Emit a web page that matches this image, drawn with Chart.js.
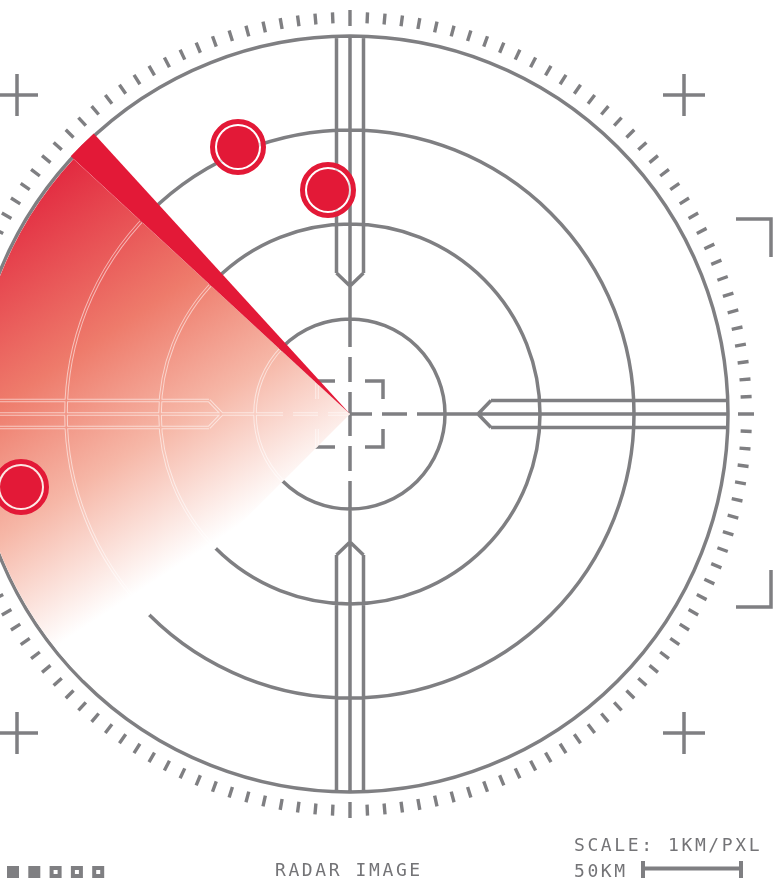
<!DOCTYPE html>
<html>
<head>
<meta charset="utf-8">
<script src="https://cdn.jsdelivr.net/npm/chart.js@4.4.1/dist/chart.umd.min.js"></script>
<style>
  html, body { margin: 0; padding: 0; background: #fff; }
  #wrap { position: relative; width: 773px; height: 881px; overflow: hidden; }
  #radar { position: absolute; left: 0; top: 0; }
  .lbl {
    position: absolute;
    font-family: 'DejaVu Sans Mono', monospace;
    font-size: 18px;
    line-height: 18px;
    letter-spacing: 2.6px;
    color: #747477;
    white-space: nowrap;
  }
</style>
</head>
<body>
<div id="wrap">
  <canvas id="radar" width="773" height="881"></canvas>
  <div class="lbl" style="left:275px; top:861px">RADAR IMAGE</div>
  <div class="lbl" style="left:574px; top:836px">SCALE: 1KM/PXL</div>
  <div class="lbl" style="left:574px; top:862px">50KM</div>
</div>
<script>
// range rings (km from the station) and contacts (x east, y north, km)
const ringRadii = [95, 190, 284, 378];
const blipX = [-112, -22, -329];
const blipY = [267, 224, -73];
// sweep beam, canvas degrees
const sweepEdge = [-137.3, -132.4];
const sweepTail = 135;
const tickCount = 144;

const GRAY = '#7f7f82';
const RED = '#e31937';
const deg = d => d * Math.PI / 180;

function structurePath(ctx, cx, cy, px) {
    const R = px(ringRadii[ringRadii.length - 1]);
    ctx.beginPath();
    ringRadii.forEach(r => {
        const rr = px(r);
        ctx.moveTo(cx + rr, cy);
        ctx.arc(cx, cy, rr, 0, Math.PI * 2);
    });
    const tip = px(128), w = px(13.5), sl = px(13);
    const end = Math.sqrt(R * R - w * w);
    const b = px(33), bl = px(18);
    for (let a = 0; a < 4; a++) {
        const c = Math.cos(a * Math.PI / 2), s = Math.sin(a * Math.PI / 2);
        const P = (u, v) => [cx + u * c - v * s, cy + u * s + v * c];
        const seg = (u1, v1, u2, v2) => { ctx.moveTo(...P(u1, v1)); ctx.lineTo(...P(u2, v2)); };
        seg(tip + sl, -w, end, -w);
        seg(tip + sl, w, end, w);
        seg(tip, 0, tip + sl, -w);
        seg(tip, 0, tip + sl, w);
        seg(px(67), 0, R, 0);
        seg(0, 0, px(22), 0);
        seg(px(32), 0, px(57), 0);
        ctx.moveTo(...P(b - bl, b));
        ctx.lineTo(...P(b, b));
        ctx.lineTo(...P(b, b - bl));
    }
}

const radarBackdrop = {
    id: 'radarBackdrop',
    beforeDatasetsDraw(chart) {
        const { ctx, scales: { x, y } } = chart;
        const cx = x.getPixelForValue(0), cy = y.getPixelForValue(0);
        const px = r => x.getPixelForValue(r) - cx;
        const R = px(ringRadii[ringRadii.length - 1]);

        ctx.save();
        ctx.strokeStyle = GRAY;
        ctx.lineCap = 'butt';

        // bezel ticks
        ctx.lineWidth = 3.4;
        ctx.beginPath();
        for (let i = 0; i < tickCount; i++) {
            const a = deg(i * 360 / tickCount);
            const major = i % (tickCount / 4) === 0;
            const r1 = px(major ? 388 : 391), r2 = px(major ? 404 : 402);
            ctx.moveTo(cx + r1 * Math.cos(a), cy + r1 * Math.sin(a));
            ctx.lineTo(cx + r2 * Math.cos(a), cy + r2 * Math.sin(a));
        }
        ctx.stroke();

        // rings, arms, centre cross
        ctx.lineWidth = 3.5;
        ctx.lineJoin = 'miter';
        structurePath(ctx, cx, cy, px);
        ctx.stroke();

        // sweep
        const grad = ctx.createLinearGradient(cx - 257, cy - 273, cx - 36, cy + 62);
        grad.addColorStop(0, '#e2283f');
        grad.addColorStop(0.42, '#ee7b6b');
        grad.addColorStop(0.7, '#f6b7a7');
        grad.addColorStop(1, '#ffffff');
        ctx.save();
        ctx.beginPath();
        ctx.moveTo(cx, cy);
        ctx.arc(cx, cy, R - 1.8, deg(sweepTail), deg(360 + sweepEdge[0]));
        ctx.closePath();
        ctx.fillStyle = grad;
        ctx.fill();
        ctx.clip();
        structurePath(ctx, cx, cy, px);
        ctx.lineWidth = 3.6;
        ctx.strokeStyle = 'rgba(255,255,255,0.55)';
        ctx.stroke();
        ctx.lineWidth = 1.6;
        ctx.strokeStyle = grad;
        ctx.stroke();
        ctx.restore();

        ctx.beginPath();
        ctx.moveTo(cx, cy);
        ctx.arc(cx, cy, R + 2, deg(sweepEdge[0]), deg(sweepEdge[1]));
        ctx.closePath();
        ctx.fillStyle = RED;
        ctx.fill();

        // corner crosses
        ctx.lineWidth = 3.5;
        ctx.strokeStyle = GRAY;
        ctx.beginPath();
        [[-333, 319], [334, 319], [-333, -319], [334, -319]].forEach(([u, v]) => {
            const mx = x.getPixelForValue(u), my = y.getPixelForValue(v);
            ctx.moveTo(mx - 21, my); ctx.lineTo(mx + 21, my);
            ctx.moveTo(mx, my - 21); ctx.lineTo(mx, my + 21);
        });
        // right frame brackets
        ctx.moveTo(736, 219); ctx.lineTo(771, 219); ctx.lineTo(771, 257);
        ctx.moveTo(736, 607); ctx.lineTo(771, 607); ctx.lineTo(771, 570);
        ctx.stroke();

        // status squares
        ctx.fillStyle = GRAY;
        for (let i = 0; i < 5; i++) {
            const sx = 7 + i * 21.3;
            if (i < 2) {
                ctx.fillRect(sx, 866, 12, 12);
            } else {
                ctx.lineWidth = 4;
                ctx.strokeRect(sx + 2, 868, 8, 8);
            }
        }

        // scale bar
        ctx.fillRect(642, 866.5, 100, 4);
        ctx.fillRect(641, 861, 4, 17);
        ctx.fillRect(739, 861, 4, 17);
        ctx.restore();
    }
};

const blips = blipX.map((v, i) => ({ x: v, y: blipY[i] }));

new Chart(document.getElementById('radar'), {
    type: 'scatter',
    data: {
        datasets: [
            { data: blips, pointRadius: 21, backgroundColor: RED, borderWidth: 0, order: 0 },
            { data: blips, pointRadius: 25.5, backgroundColor: 'rgba(255,255,255,0.75)',
              borderColor: RED, borderWidth: 5, order: 1 }
        ]
    },
    options: {
        responsive: false,
        animation: false,
        events: [],
        layout: { padding: 0, autoPadding: false },
        plugins: { legend: { display: false }, tooltip: { enabled: false } },
        scales: {
            x: { type: 'linear', min: -350, max: 423, display: false },
            y: { type: 'linear', min: -467, max: 414, display: false }
        }
    },
    plugins: [radarBackdrop]
});
</script>
</body>
</html>
